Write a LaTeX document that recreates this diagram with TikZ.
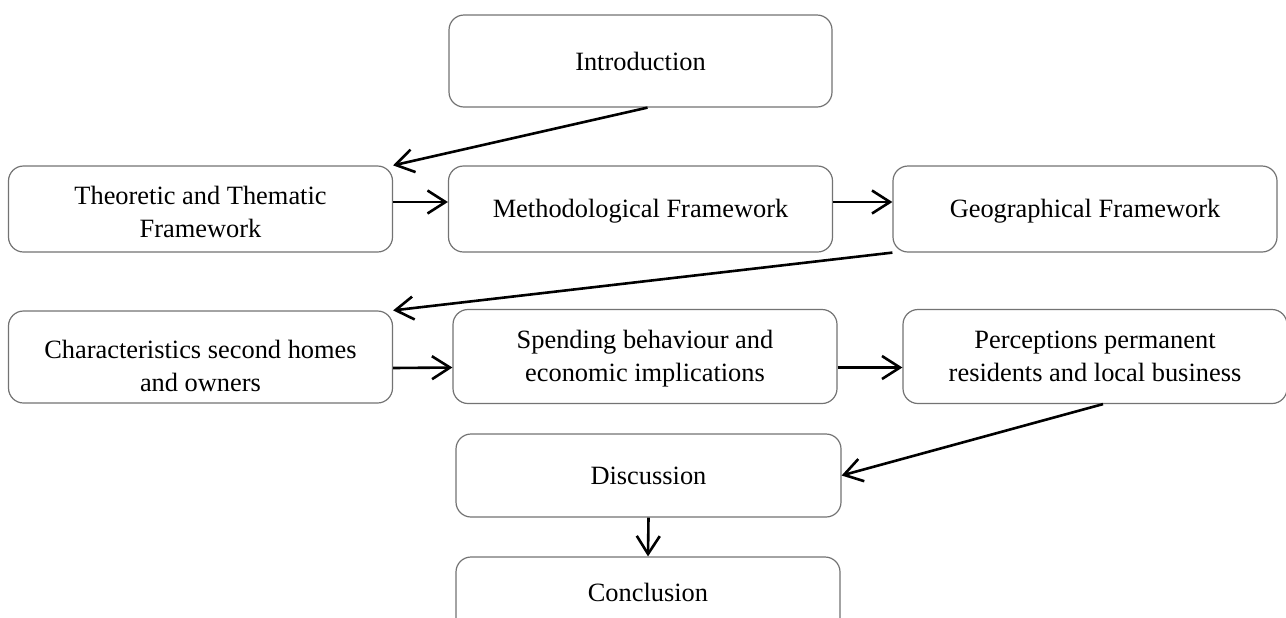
\documentclass[tikz,border=0pt]{standalone}
\usepackage{fontspec}
\setmainfont{Liberation Serif}
\usetikzlibrary{arrows.meta}
\begin{document}
\begin{tikzpicture}[x=0.5pt,y=-0.5pt,
  box/.style={draw=black!55, line width=0.6pt, rounded corners=7.5pt,
    fill=white, align=center, inner sep=0pt,
    font=\fontsize{13.2pt}{16.5pt}\selectfont},
  flow/.style={line width=1.3pt, -{Straight Barb[length=9pt,width=11.5pt,line width=1.3pt]}},
  lbl/.style={align=center, inner sep=0pt, font=\fontsize{13.2pt}{16.5pt}\selectfont}]
\useasboundingbox (0,0) rectangle (1286,617);
\clip (0,0) rectangle (1286,617);

% first row
\node[box, minimum width=191.5pt, minimum height=46pt] (intro) at (640.5,61) {Introduction};

% second row: frameworks
\node[box, minimum width=192pt, minimum height=43pt] (theo) at (200.5,209) {};
\node[lbl] (theotext) at (200.5,212) {Theoretic and Thematic\\Framework};
\node[box, minimum width=192pt, minimum height=43pt] (meth) at (640.5,209) {};
\node[lbl] (methtext) at (640.5,211) {Methodological Framework};
\node[box, minimum width=192pt, minimum height=43pt] (geo) at (1085,209) {};
\node[lbl] (geotext) at (1085,211) {Geographical Framework};

% third row: results
\node[box, minimum width=192pt, minimum height=46pt] (char) at (200.5,357) {};
\node[lbl] (chartext) at (200.5,366) {Characteristics second homes\\and owners};
\node[box, minimum width=192pt, minimum height=47pt] (spend) at (645,356.5) {};
\node[lbl] (spendtext) at (645,358.5) {Spending behaviour and\\economic implications};
\node[box, minimum width=192pt, minimum height=47pt] (perc) at (1095,356.5) {Perceptions permanent\\residents and local business};

% closing chapters
\node[box, minimum width=192.5pt, minimum height=41.5pt] (disc) at (648.5,475.5) {Discussion};
\node[box, minimum width=192pt, minimum height=41.5pt] (concl) at (648,598.5) {};
\node[lbl] (concltext) at (648,592) {Conclusion};

% reading order
\draw[flow] ([xshift=3.5pt]intro.south) -- (theo.north east);
\draw[flow] ([yshift=3.5pt]theo.east) -- ([yshift=3.5pt]meth.west);
\draw[flow] ([yshift=3.5pt]meth.east) -- ([yshift=3.5pt]geo.west);
\draw[flow] (geo.south west) -- (char.north east);
\draw[flow] ([yshift=-5.5pt]char.east) -- ([yshift=-5.5pt]spend.west);
\draw[flow] ([yshift=-5.5pt]spend.east) -- ([yshift=-5.5pt]perc.west);
\draw[flow] ([xshift=4pt]perc.south) -- (disc.east);
\draw[flow] (disc.south) -- (concl.north);
\end{tikzpicture}
\end{document}
